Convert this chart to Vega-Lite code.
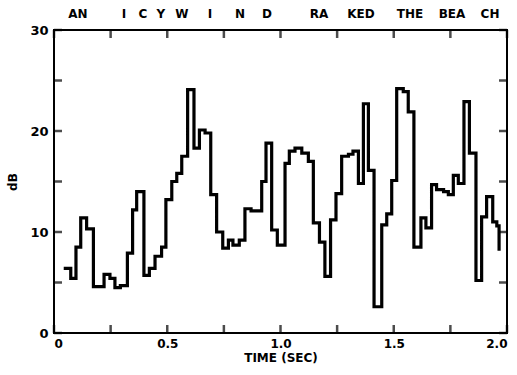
{
  "$schema": "https://vega.github.io/schema/vega-lite/v6.json",
  "width": 453,
  "height": 303,
  "autosize": "none",
  "padding": {"left": 54, "top": 30, "right": 10, "bottom": 42},
  "background": "white",
  "config": {
    "view": {"stroke": "black", "strokeWidth": 2},
    "tick": {"bandSize": 8, "thickness": 2.5},
    "axis": {"labelFont": "DejaVu Sans", "titleFont": "DejaVu Sans", "labelColor": "black", "titleColor": "black", "domain": false, "grid": false, "ticks": false, "labelFontWeight": "bold", "titleFontWeight": "bold"}
  },
  "datasets": {
    "xticks": [{"t": 0}, {"t": 0.25}, {"t": 0.5}, {"t": 0.75}, {"t": 1}, {"t": 1.25}, {"t": 1.5}, {"t": 1.75}, {"t": 2}],
    "yticks": [{"db": 0}, {"db": 5}, {"db": 10}, {"db": 15}, {"db": 20}, {"db": 25}, {"db": 30}]
  },
  "layer": [
    {
      "data": {"values": [
        {"t": 0.05, "db": 6.4}, {"t": 0.074, "db": 5.4}, {"t": 0.097, "db": 8.5}, {"t": 0.118, "db": 11.4},
        {"t": 0.144, "db": 10.3}, {"t": 0.174, "db": 4.6}, {"t": 0.221, "db": 5.8}, {"t": 0.247, "db": 5.4},
        {"t": 0.269, "db": 4.5}, {"t": 0.293, "db": 4.7}, {"t": 0.324, "db": 7.9}, {"t": 0.347, "db": 12.2},
        {"t": 0.365, "db": 14.0}, {"t": 0.397, "db": 5.7}, {"t": 0.421, "db": 6.4}, {"t": 0.446, "db": 7.6},
        {"t": 0.475, "db": 8.5}, {"t": 0.494, "db": 13.2}, {"t": 0.52, "db": 15.0}, {"t": 0.542, "db": 15.8},
        {"t": 0.564, "db": 17.5}, {"t": 0.59, "db": 24.1}, {"t": 0.618, "db": 18.3}, {"t": 0.642, "db": 20.1},
        {"t": 0.667, "db": 19.8}, {"t": 0.692, "db": 13.7}, {"t": 0.718, "db": 10.0}, {"t": 0.745, "db": 8.4},
        {"t": 0.77, "db": 9.2}, {"t": 0.79, "db": 8.7}, {"t": 0.818, "db": 9.2}, {"t": 0.843, "db": 12.3},
        {"t": 0.87, "db": 12.1}, {"t": 0.917, "db": 15.0}, {"t": 0.936, "db": 18.8}, {"t": 0.961, "db": 10.2},
        {"t": 0.986, "db": 8.7}, {"t": 1.02, "db": 16.8}, {"t": 1.039, "db": 18.0}, {"t": 1.064, "db": 18.3},
        {"t": 1.094, "db": 17.8}, {"t": 1.123, "db": 17.0}, {"t": 1.145, "db": 10.9}, {"t": 1.172, "db": 9.0},
        {"t": 1.196, "db": 5.6}, {"t": 1.221, "db": 11.2}, {"t": 1.245, "db": 13.8}, {"t": 1.27, "db": 17.5},
        {"t": 1.3, "db": 17.7}, {"t": 1.32, "db": 18.0}, {"t": 1.344, "db": 14.8}, {"t": 1.366, "db": 22.7},
        {"t": 1.388, "db": 16.1}, {"t": 1.413, "db": 2.6}, {"t": 1.447, "db": 10.7}, {"t": 1.469, "db": 11.8},
        {"t": 1.491, "db": 15.1}, {"t": 1.513, "db": 24.2}, {"t": 1.542, "db": 23.9}, {"t": 1.564, "db": 21.9},
        {"t": 1.589, "db": 8.5}, {"t": 1.62, "db": 11.4}, {"t": 1.642, "db": 10.4}, {"t": 1.667, "db": 14.7},
        {"t": 1.689, "db": 14.2}, {"t": 1.72, "db": 14.0}, {"t": 1.741, "db": 13.7}, {"t": 1.763, "db": 15.6},
        {"t": 1.785, "db": 14.8}, {"t": 1.81, "db": 22.9}, {"t": 1.834, "db": 17.8}, {"t": 1.863, "db": 5.2},
        {"t": 1.888, "db": 11.5}, {"t": 1.91, "db": 13.5}, {"t": 1.937, "db": 11.0}, {"t": 1.955, "db": 10.6},
        {"t": 1.965, "db": 8.3}
      ]},
      "mark": {"type": "line", "interpolate": "step-after", "color": "black", "strokeWidth": 3.2, "strokeJoin": "miter", "strokeCap": "square"},
      "encoding": {
        "x": {"field": "t", "type": "quantitative", "scale": {"domain": [0, 2], "nice": false},
          "axis": {"orient": "bottom", "title": "TIME (SEC)", "titleFontSize": 12, "titlePadding": 3,
            "values": [0, 0.5, 1, 1.5, 2], "labelPadding": 5, "labelFontSize": 12,
            "labelExpr": "datum.value == 0 ? '0' : format(datum.value, '.1f')"}},
        "y": {"field": "db", "type": "quantitative", "scale": {"domain": [0, 30], "nice": false},
          "axis": {"orient": "left", "title": "dB", "titleFontSize": 12, "titlePadding": 10,
            "values": [0, 10, 20, 30], "labelPadding": 6, "labelFontSize": 13}}
      }
    },
    {
      "data": {"name": "xticks"},
      "mark": {"type": "tick", "orient": "vertical", "color": "#000000", "filled": true, "size": 8, "thickness": 2.5, "yOffset": -4},
      "encoding": {
        "x": {"field": "t", "type": "quantitative"},
        "y": {"datum": 0, "type": "quantitative"}
      }
    },
    {
      "data": {"name": "xticks"},
      "mark": {"type": "tick", "orient": "vertical", "color": "#000000", "filled": true, "size": 8, "thickness": 2.5, "yOffset": 4},
      "encoding": {
        "x": {"field": "t", "type": "quantitative"},
        "y": {"datum": 30, "type": "quantitative"}
      }
    },
    {
      "data": {"name": "yticks"},
      "mark": {"type": "tick", "orient": "horizontal", "color": "#000000", "filled": true, "size": 8, "thickness": 2.5, "xOffset": 4},
      "encoding": {
        "y": {"field": "db", "type": "quantitative"},
        "x": {"datum": 0, "type": "quantitative"}
      }
    },
    {
      "data": {"name": "yticks"},
      "mark": {"type": "tick", "orient": "horizontal", "color": "#000000", "filled": true, "size": 8, "thickness": 2.5, "xOffset": -4},
      "encoding": {
        "y": {"field": "db", "type": "quantitative"},
        "x": {"datum": 2, "type": "quantitative"}
      }
    },
    {
      "data": {"values": [
        {"t": 0.106, "db": 31.6, "s": "AN"}, {"t": 0.309, "db": 31.6, "s": "I"}, {"t": 0.393, "db": 31.6, "s": "C"},
        {"t": 0.472, "db": 31.6, "s": "Y"}, {"t": 0.565, "db": 31.6, "s": "W"}, {"t": 0.689, "db": 31.6, "s": "I"},
        {"t": 0.821, "db": 31.6, "s": "N"}, {"t": 0.94, "db": 31.6, "s": "D"}, {"t": 1.17, "db": 31.6, "s": "RA"},
        {"t": 1.355, "db": 31.6, "s": "KED"}, {"t": 1.572, "db": 31.6, "s": "THE"}, {"t": 1.757, "db": 31.6, "s": "BEA"},
        {"t": 1.925, "db": 31.6, "s": "CH"}
      ]},
      "mark": {"type": "text", "font": "DejaVu Sans", "fontWeight": "bold", "fontSize": 12, "color": "black", "clip": false},
      "encoding": {
        "x": {"field": "t", "type": "quantitative"},
        "y": {"field": "db", "type": "quantitative"},
        "text": {"field": "s"}
      }
    }
  ]
}
